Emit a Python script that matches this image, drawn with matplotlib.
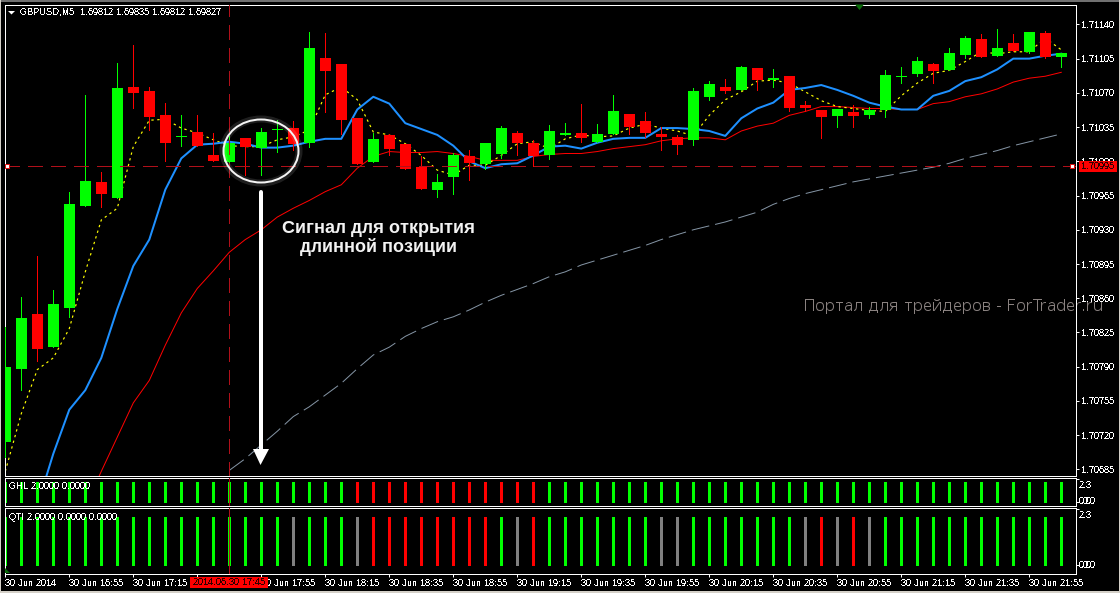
import matplotlib
matplotlib.use('Agg')
import matplotlib.pyplot as plt
from matplotlib.patches import Ellipse, Polygon, Rectangle
import numpy as np

W, H = 1120, 593

# --- bars (GBPUSD M5) ---
opens = [1.70713, 1.70788, 1.70844, 1.70810, 1.70850, 1.70954, 1.70979, 1.70962, 1.71076, 1.71072,
         1.71047, 1.71025, 1.71030, 1.71006, 1.70999, 1.71024, 1.71014, 1.71032, 1.71034, 1.71019,
         1.71106, 1.71099, 1.71044, 1.70999, 1.71027, 1.71018, 1.70994, 1.70971, 1.70984, 1.71005,
         1.70997, 1.71007, 1.71029, 1.71019, 1.71006, 1.71027, 1.71029, 1.71020, 1.71028, 1.71048,
         1.71041, 1.71028, 1.71025, 1.71022, 1.71066, 1.71076, 1.71073, 1.71095, 1.71083, 1.71087,
         1.71058, 1.71052, 1.71046, 1.71050, 1.71047, 1.71052, 1.71086, 1.71089, 1.71100, 1.71093,
         1.71109, 1.71125, 1.71108, 1.71121, 1.71112, 1.71131, 1.71107]
highs = [1.70831, 1.70861, 1.70903, 1.70868, 1.70969, 1.71068, 1.70989, 1.71101, 1.71119, 1.71076,
         1.71060, 1.71047, 1.71047, 1.71029, 1.71026, 1.71024, 1.71034, 1.71042, 1.71041, 1.71132,
         1.71131, 1.71099, 1.71044, 1.71029, 1.71028, 1.71018, 1.71005, 1.70987, 1.71009, 1.71012,
         1.71019, 1.71036, 1.71031, 1.71022, 1.71037, 1.71039, 1.71059, 1.71038, 1.71068, 1.71048,
         1.71050, 1.71035, 1.71027, 1.71075, 1.71082, 1.71084, 1.71097, 1.71095, 1.71094, 1.71087,
         1.71062, 1.71052, 1.71054, 1.71058, 1.71056, 1.71093, 1.71096, 1.71107, 1.71101, 1.71116,
         1.71128, 1.71130, 1.71135, 1.71130, 1.71132, 1.71133, 1.71111]
lows = [1.70698, 1.70766, 1.70796, 1.70810, 1.70841, 1.70954, 1.70953, 1.70962, 1.71055, 1.71032,
        1.71000, 1.71016, 1.71016, 1.71000, 1.70999, 1.70986, 1.70986, 1.71010, 1.71012, 1.71015,
        1.71050, 1.71028, 1.70997, 1.70999, 1.71006, 1.70992, 1.70972, 1.70964, 1.70967, 1.70981,
        1.70992, 1.71003, 1.71006, 1.70995, 1.71002, 1.71027, 1.71020, 1.71020, 1.71028, 1.71028,
        1.71025, 1.71012, 1.71007, 1.71017, 1.71063, 1.71070, 1.71073, 1.71073, 1.71076, 1.71051,
        1.71051, 1.71024, 1.71035, 1.71035, 1.71044, 1.71045, 1.71080, 1.71087, 1.71080, 1.71093,
        1.71106, 1.71107, 1.71108, 1.71113, 1.71111, 1.71106, 1.71096]
closes = [1.70790, 1.70840, 1.70808, 1.70854, 1.70956, 1.70980, 1.70967, 1.71075, 1.71070, 1.71045,
          1.71019, 1.71026, 1.71016, 1.71000, 1.71019, 1.71015, 1.71030, 1.71033, 1.71018, 1.71116,
          1.71092, 1.71042, 1.70997, 1.71023, 1.71013, 1.70992, 1.70972, 1.70979, 1.71006, 1.70998,
          1.71019, 1.71034, 1.71019, 1.71005, 1.71031, 1.71029, 1.71024, 1.71028, 1.71051, 1.71035,
          1.71029, 1.71025, 1.71017, 1.71072, 1.71079, 1.71072, 1.71096, 1.71083, 1.71085, 1.71055,
          1.71055, 1.71045, 1.71054, 1.71046, 1.71052, 1.71088, 1.71087, 1.71103, 1.71092, 1.71111,
          1.71126, 1.71107, 1.71116, 1.71113, 1.71132, 1.71107, 1.71111]

# --- moving averages (each one ends on the last bar) ---
ma_yellow = [1.70683, 1.70742, 1.70787, 1.70799, 1.70829, 1.70887, 1.70940, 1.70952, 1.71015, 1.71042,
             1.71043, 1.71034, 1.71029, 1.71022, 1.71016, 1.71015, 1.71015, 1.71022, 1.71025, 1.71032,
             1.71068, 1.71076, 1.71063, 1.71030, 1.71027, 1.71018, 1.71006, 1.70991, 1.70986, 1.70996,
             1.70996, 1.71006, 1.71018, 1.71020, 1.71013, 1.71023, 1.71027, 1.71025, 1.71026, 1.71034,
             1.71038, 1.71034, 1.71031, 1.71026, 1.71047, 1.71063, 1.71071, 1.71082, 1.71083, 1.71080,
             1.71071, 1.71062, 1.71056, 1.71054, 1.71052, 1.71051, 1.71067, 1.71080, 1.71090, 1.71093,
             1.71102, 1.71112, 1.71110, 1.71112, 1.71112, 1.71126, 1.71114]
ma_blue = [1.70648, 1.70701, 1.70746, 1.70766, 1.70799, 1.70849, 1.70893, 1.70920, 1.70971, 1.71003,
           1.71017, 1.71018, 1.71020, 1.71018, 1.71014, 1.71014, 1.71016, 1.71020, 1.71023, 1.71023,
           1.71053, 1.71066, 1.71059, 1.71039, 1.71033, 1.71027, 1.71016, 1.71000, 1.70993, 1.70997,
           1.70998, 1.71006, 1.71015, 1.71016, 1.71013, 1.71019, 1.71023, 1.71024, 1.71024, 1.71034,
           1.71034, 1.71033, 1.71031, 1.71026, 1.71044, 1.71054, 1.71060, 1.71073, 1.71075, 1.71078,
           1.71073, 1.71067, 1.71060, 1.71056, 1.71053, 1.71053, 1.71067, 1.71072, 1.71082, 1.71086,
           1.71094, 1.71105, 1.71105, 1.71108, 1.71110]
ma_red = [1.70647, 1.70683, 1.70718, 1.70753, 1.70776, 1.70812, 1.70845, 1.70870, 1.70888, 1.70907,
          1.70920, 1.70930, 1.70943, 1.70952, 1.70960, 1.70969, 1.70976, 1.70993, 1.71005, 1.71010,
          1.71009, 1.71009, 1.71010, 1.71008, 1.71005, 1.71001, 1.71001, 1.71001, 1.71005, 1.71007,
          1.71008, 1.71008, 1.71010, 1.71013, 1.71015, 1.71017, 1.71021, 1.71023, 1.71024, 1.71024,
          1.71022, 1.71031, 1.71036, 1.71039, 1.71047, 1.71051, 1.71056, 1.71056, 1.71055, 1.71054,
          1.71054, 1.71053, 1.71053, 1.71059, 1.71061, 1.71066, 1.71069, 1.71074, 1.71081, 1.71085,
          1.71087, 1.71091]
ma_gray = [1.70684, 1.70696, 1.70710, 1.70724, 1.70739, 1.70749, 1.70761, 1.70773, 1.70788, 1.70802,
           1.70810, 1.70821, 1.70829, 1.70836, 1.70841, 1.70848, 1.70856, 1.70863, 1.70869, 1.70875,
           1.70882, 1.70887, 1.70894, 1.70899, 1.70904, 1.70909, 1.70914, 1.70920, 1.70925, 1.70930,
           1.70934, 1.70938, 1.70943, 1.70948, 1.70956, 1.70962, 1.70967, 1.70971, 1.70975, 1.70979,
           1.70982, 1.70985, 1.70988, 1.70991, 1.70994, 1.70998, 1.71003, 1.71007, 1.71011, 1.71016,
           1.71020, 1.71024, 1.71028]

price_ticks = [1.71140, 1.71105, 1.71070, 1.71035, 1.71000, 1.70965, 1.70930,
               1.70895, 1.70860, 1.70825, 1.70790, 1.70755, 1.70720, 1.70685]
current_price = 1.70995
cross_bar = 14

# --- indicator panes: g = green, r = red, n = gray ---
ghl_state = 'g' * 22 + 'r' * 12 + 'g' * 33
qti_state = ('g' * 18 + 'n' + 'g' * 3 + 'n' + 'r' * 8 + 'g' + 'n' + 'r' + 'g' * 7 + 'n' * 2
             + 'g' * 7 + 'n' + 'r' + 'n' + 'r' + 'n' + 'g' * 12)
ind_value = 2.0
STATE_COLORS = {'g': '#00ff00', 'r': '#ff0000', 'n': '#808080'}

time_ticks = list(range(0, 67, 4))
# the 17:35 label sits under the cursor time box
time_labels = ['30 Jun 2014', '30 Jun 16:55', '30 Jun 17:15', '', '30 Jun 17:55',
               '30 Jun 18:15', '30 Jun 18:35', '30 Jun 18:55', '30 Jun 19:15', '30 Jun 19:35',
               '30 Jun 19:55', '30 Jun 20:15', '30 Jun 20:35', '30 Jun 20:55', '30 Jun 21:15',
               '30 Jun 21:35', '30 Jun 21:55']

PX = 0.72   # 1 px in points at dpi 100
plt.rcParams['font.family'] = ['Liberation Sans', 'DejaVu Sans']
plt.rcParams['text.antialiased'] = False
plt.rcParams['text.hinting'] = 'native'
plt.rcParams['text.hinting_factor'] = 1
FS = 6.6


def pane(top, bottom, left=4.5, right=1075.5):
    ax = fig.add_axes([left / W, 1 - bottom / H, (right - left) / W, (bottom - top) / H])
    ax.set_facecolor('black')
    for s in ax.spines.values():
        s.set_color('white')
        s.set_linewidth(PX)
    ax.set_xlim(-0.05, 66.89)
    ax.yaxis.tick_right()
    ax.tick_params(colors='white', labelsize=FS, length=2.5, width=PX, pad=1.5)
    ax.set_xticks([])
    return ax


fig = plt.figure(figsize=(W / 100, H / 100), dpi=100, facecolor='black')

# --- main pane ---
ax = pane(4.5, 475.5)
ax.set_ylim(1.71140 - (475.5 - 24.4) / 0.978 * 1e-5, 1.71140 + (24.4 - 4.5) / 0.978 * 1e-5)
ax.set_yticks(price_ticks)
ax.set_yticklabels([f'{p:.5f}' for p in price_ticks])

idx = np.arange(len(opens))
o, h, l, c = map(np.array, (opens, highs, lows, closes))
up = c >= o
for mask, col in ((up, '#00ff00'), (~up, '#ff0000')):
    ax.vlines(idx[mask], l[mask], h[mask], color=col, lw=PX, zorder=3, antialiased=False)
    ax.bar(idx[mask], np.maximum(np.abs(c - o)[mask], 1e-5), bottom=np.minimum(o, c)[mask],
           width=11 / 16, color=col, zorder=4, antialiased=False)

for series, col, lw, dashes in ((ma_gray, '#8494a4', PX, (18, 6)),
                                (ma_red, '#ff0000', PX, None),
                                (ma_yellow, '#ffff00', 0.85, (2, 3)),
                                (ma_blue, '#1e90ff', 1.45, None)):
    xs = np.arange(len(opens) - len(series), len(opens))
    line, = ax.plot(xs, series, color=col, lw=lw, zorder=2)
    if dashes:
        line.set_dashes(dashes)

CROSS = '#b0101a'
ax.axvline(cross_bar, color=CROSS, lw=PX, dashes=(15, 9), zorder=5, antialiased=False)
ax.axhline(current_price, color=CROSS, lw=PX, dashes=(15, 9), zorder=5, antialiased=False)
ax.plot([0.1, 66.65], [current_price] * 2, ls='none', marker='s', ms=3, mfc='white', mec='#e01010',
        mew=PX, zorder=6, clip_on=False)

# --- indicator panes ---
ghl = pane(477.5, 505.5)
ghl.set_ylim(-0.35, 2.45)
qti = pane(507.5, 573.5)
qti.set_ylim(-0.35, 2.375)
for a, state in ((ghl, ghl_state), (qti, qti_state)):
    a.vlines(np.arange(len(state)), 0, ind_value, colors=[STATE_COLORS[s] for s in state],
             lw=3 * PX, antialiased=False)
    a.axvline(cross_bar, color=CROSS, lw=PX, zorder=5, antialiased=False)
    a.set_yticks([2.3, 0])
    a.set_yticklabels(['', ''])

qti.set_xticks(time_ticks)
qti.set_xticklabels(time_labels, ha='left')
qti.tick_params(axis='x', length=2.5, pad=1.5, colors='white', labelsize=FS)

# --- overlay in pixel coordinates ---
over = fig.add_axes([0, 0, 1, 1], facecolor='none')
over.set_xlim(0, W)
over.set_ylim(H, 0)
over.axis('off')

over.text(20, 12.5, 'GBPUSD,M5  1.69812 1.69835 1.69812 1.69827', color='white', fontsize=FS, va='center')
over.text(9, 486.7, 'GHL 2.0000 0.0000', color='white', fontsize=FS, va='center')
over.text(9, 517, 'QTI 2.0000 0.0000 0.0000', color='white', fontsize=FS, va='center')
for y_two, y_zero in ((485, 501.7), (515, 565)):
    over.text(1079, y_two, '2.3', color='white', fontsize=FS, va='center')
    over.text(1079, y_zero, '0.0', color='white', fontsize=FS, va='center')
    over.text(1083, y_zero, '0.0', color='white', fontsize=FS, va='center')

over.add_patch(Polygon([(8, 11), (15, 11), (11.5, 14.5)], color='white', lw=0))
over.add_patch(Polygon([(855, 4.5), (864, 4.5), (859.5, 10)], color='#0a6b0a', lw=0))
over.add_patch(Polygon([(5, 568), (5, 573), (10, 573)], color='#0a6b0a', lw=0))

# current price label and cursor time label
over.add_patch(Rectangle((1079, 161), 38, 11, color='#ff0000', lw=0, zorder=8))
over.text(1081, 166.8, f'{current_price:.5f}', color='#300000', fontsize=FS, va='center', zorder=9)
over.add_patch(Rectangle((190, 577), 78, 11, color='#ff0000', lw=0, zorder=8))
over.text(193, 582.7, '2014.06.30 17:45', color='#300000', fontsize=FS, va='center', zorder=9)

# hand-drawn signal mark
over.add_patch(Ellipse((261, 151), 76, 64, fill=False, ec='white', lw=7 * PX, alpha=0.12))
over.add_patch(Ellipse((261, 151), 75, 63, fill=False, ec='#f4f4f4', lw=2 * PX))
over.plot([261, 261], [192, 450], color='white', lw=4 * PX, solid_capstyle='round')
over.add_patch(Polygon([(253, 449), (269, 449), (260.5, 465)], color='white', lw=0))
over.text(378.5, 238, 'Сигнал для открытия\nдлинной позиции', color='#f2f2f2', fontsize=13.2,
          weight='bold', ha='center', va='center', linespacing=1.08, antialiased=True)
over.text(804, 306.5, 'Портал для трейдеров - ForTrader.ru', color='#8a8280', fontsize=11.8,
          family='DejaVu Sans', va='center', antialiased=True)
over.plot([1075.5, 1075.5], [4.5, 475.5], color='white', lw=PX, zorder=7)

# window edge
for x, y, w_, h_, col in ((0, 0, W, 1.5, '#707070'), (0, 0, 1, H, '#d4d0c8'),
                          (0, 590.7, W, 3, '#d4d0c8'), (1118.7, 0, 2, H, '#d4d0c8')):
    over.add_patch(Rectangle((x, y), w_, h_, color=col, lw=0))

fig.savefig('out.png', dpi=100, facecolor='black')
